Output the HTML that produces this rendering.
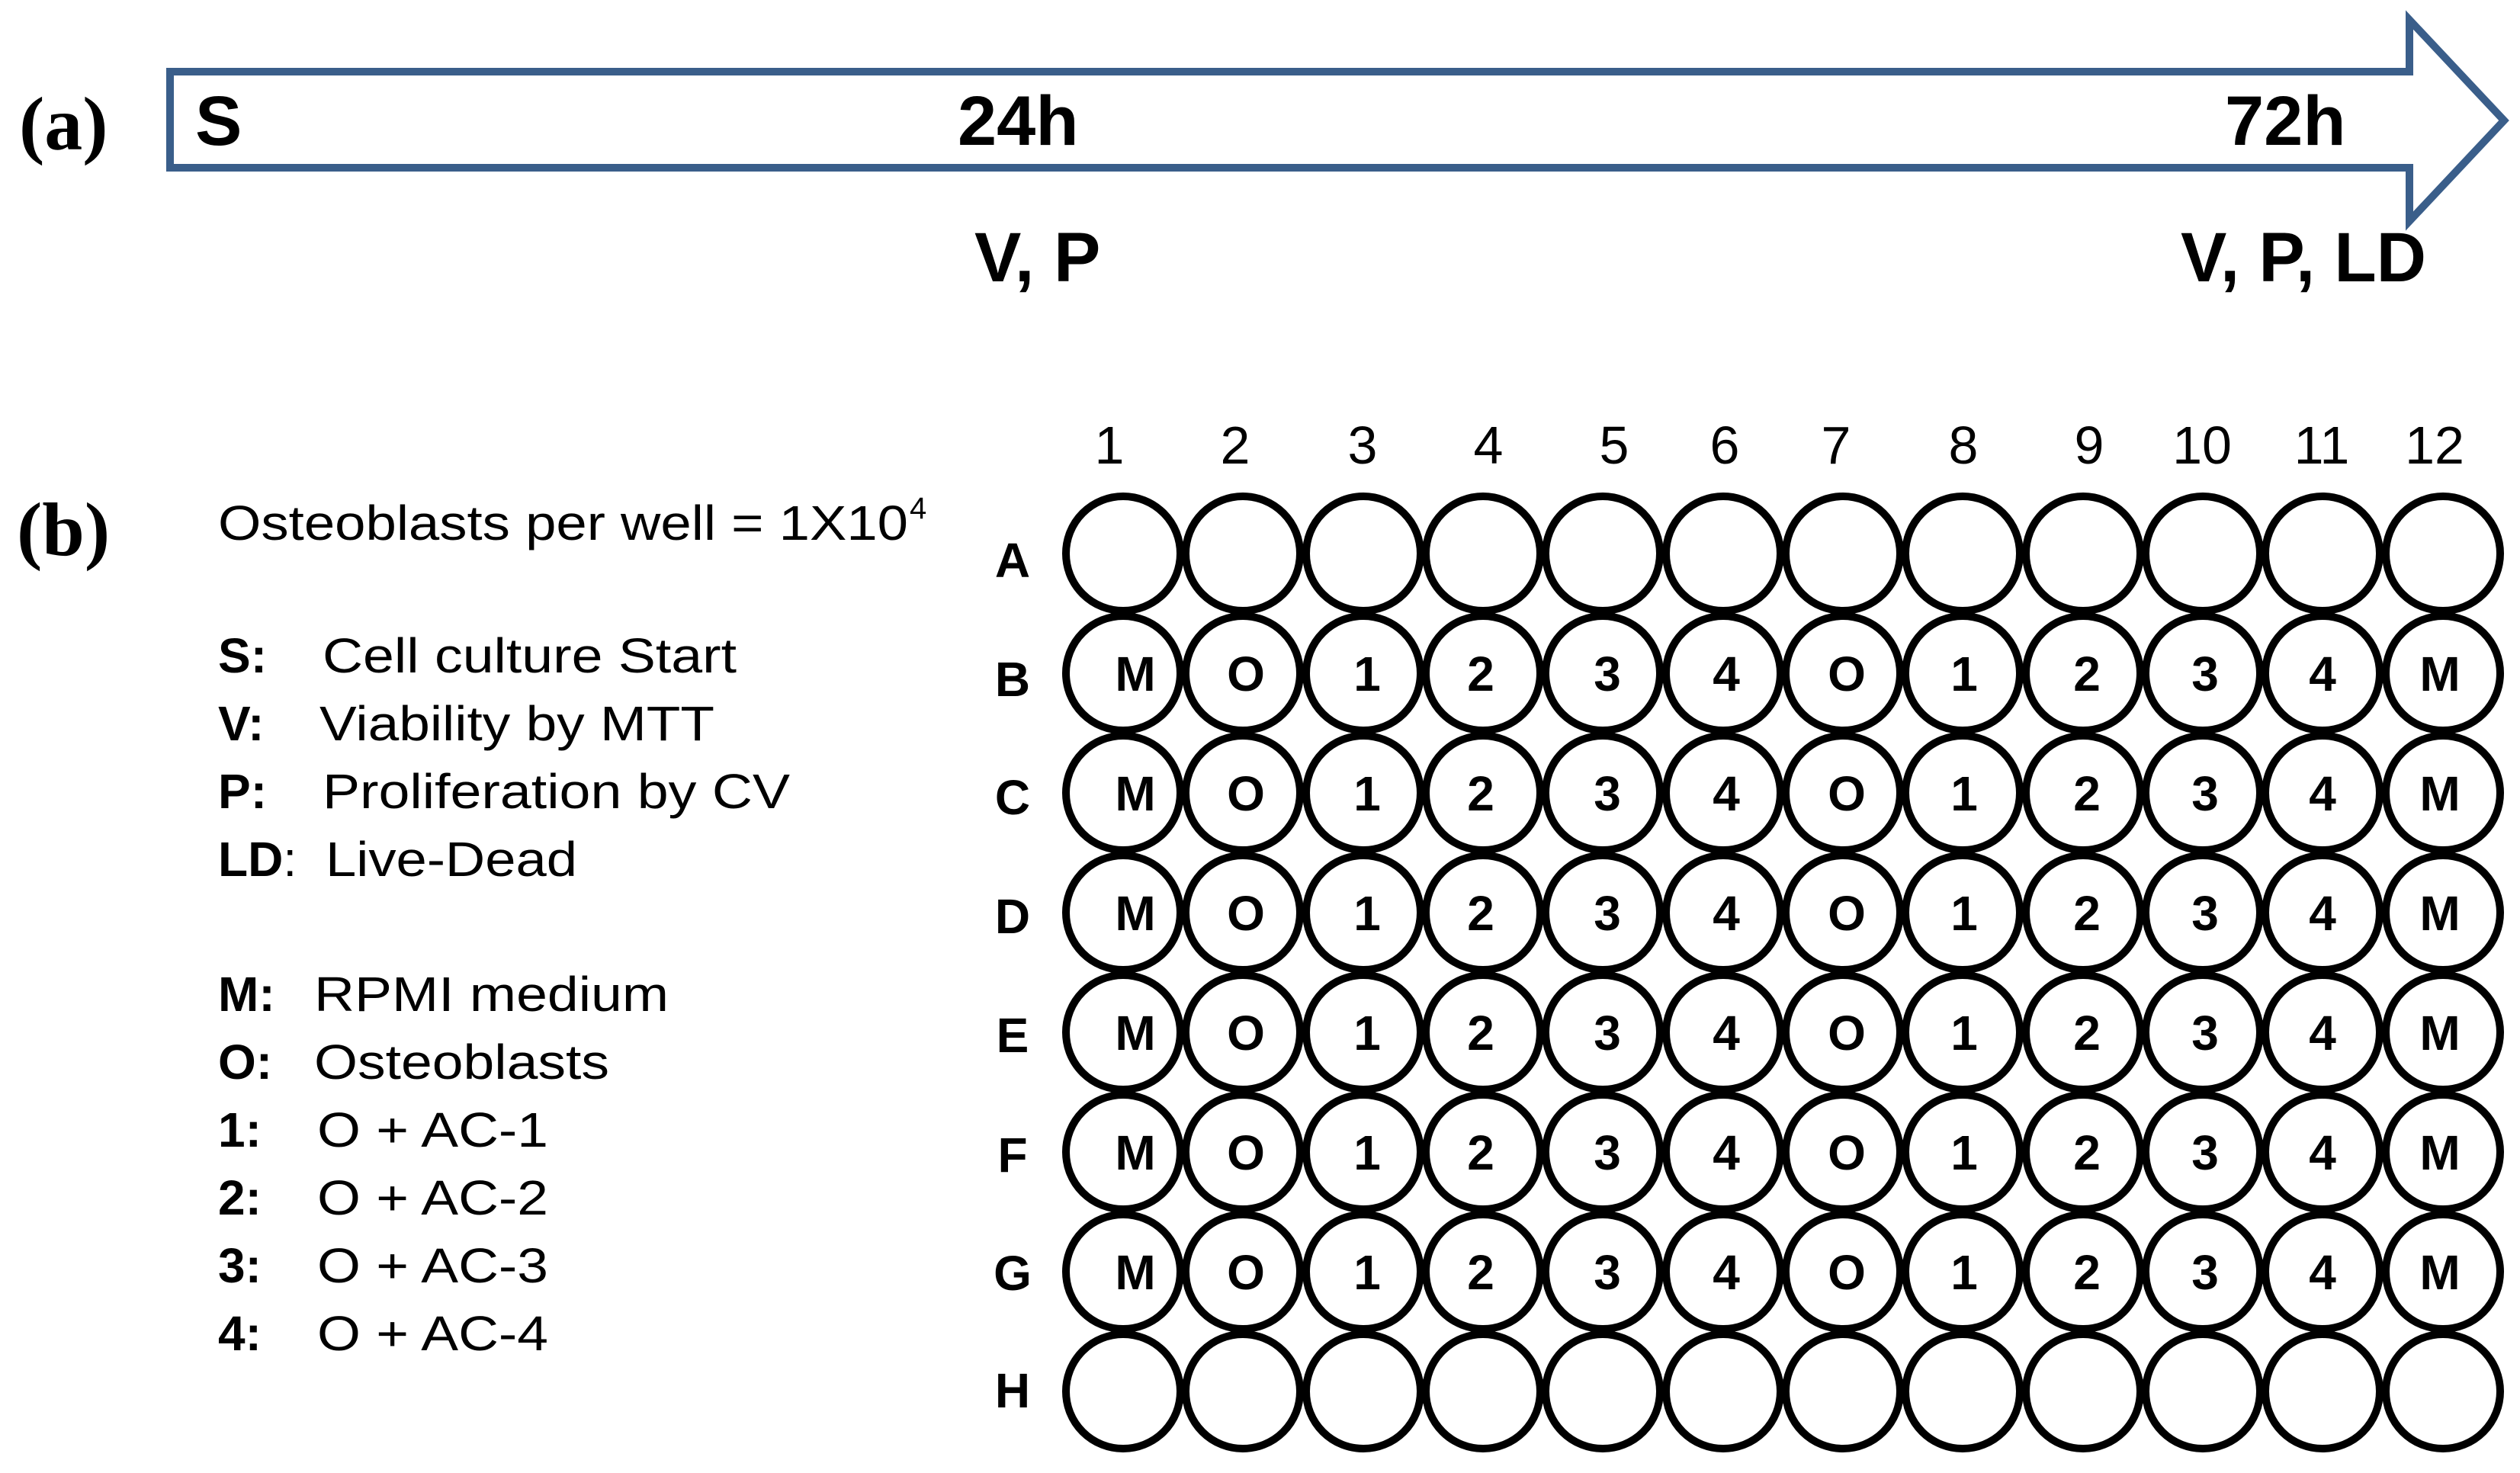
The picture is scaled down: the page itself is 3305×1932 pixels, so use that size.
<!DOCTYPE html>
<html><head><meta charset="utf-8"><style>
html,body{margin:0;padding:0;background:#fff;}
svg{display:block;}
text{font-family:"Liberation Sans",Arial,sans-serif;}
.b{font-weight:bold;}
.ser{font-family:"Liberation Serif","Times New Roman",serif;font-weight:bold;}
</style></head><body>
<svg width="3305" height="1932" viewBox="0 0 3305 1932" xmlns="http://www.w3.org/2000/svg">
<defs>
<g id="row">
<circle cx="1473" cy="0" r="75"/><circle cx="1630" cy="0" r="75"/><circle cx="1788" cy="0" r="75"/><circle cx="1945" cy="0" r="75"/>
<circle cx="2102" cy="0" r="75"/><circle cx="2260" cy="0" r="75"/><circle cx="2417" cy="0" r="75"/><circle cx="2574" cy="0" r="75"/>
<circle cx="2732" cy="0" r="75"/><circle cx="2889" cy="0" r="75"/><circle cx="3046" cy="0" r="75"/><circle cx="3204" cy="0" r="75"/>
</g>
<g id="lab" class="b" font-size="64" text-anchor="middle">
<text x="1489">M</text><text x="1634">O</text><text x="1793">1</text><text x="1942">2</text>
<text x="2108">3</text><text x="2264">4</text><text x="2422">O</text><text x="2576">1</text>
<text x="2737">2</text><text x="2892">3</text><text x="3046">4</text><text x="3200">M</text>
</g>
</defs>
<rect width="3305" height="1932" fill="#fff"/>
<!-- (a) arrow -->
<polygon points="223,94 3160,94 3160,26 3284,158 3160,290 3160,220 223,220" fill="#fff" stroke="#3a5e8a" stroke-width="10"/>
<text class="ser" x="25" y="196" font-size="100">(a)</text>
<text class="b" x="256" y="190" font-size="92">S</text>
<text class="b" x="1256" y="190" font-size="92">24h</text>
<text class="b" x="2918" y="190" font-size="92">72h</text>
<text class="b" x="1278" y="369" font-size="92">V, P</text>
<text class="b" x="2860" y="369" font-size="92" textLength="322" lengthAdjust="spacingAndGlyphs">V, P, LD</text>
<!-- (b) legend -->
<text class="ser" x="22" y="728" font-size="100">(b)</text>
<text x="286" y="708" font-size="64" textLength="905" lengthAdjust="spacingAndGlyphs">Osteoblasts per well = 1X10</text>
<text x="1193" y="680" font-size="40">4</text>
<g font-size="64">
<text class="b" x="286" y="882">S:</text><text x="423" y="882" textLength="543" lengthAdjust="spacingAndGlyphs">Cell culture Start</text>
<text class="b" x="286" y="971">V:</text><text x="419" y="971" textLength="518" lengthAdjust="spacingAndGlyphs">Viability by MTT</text>
<text class="b" x="286" y="1060">P:</text><text x="423" y="1060" textLength="613" lengthAdjust="spacingAndGlyphs">Proliferation by CV</text>
<text x="286" y="1149"><tspan class="b">LD</tspan>:</text><text x="427" y="1149" textLength="330" lengthAdjust="spacingAndGlyphs">Live-Dead</text>
<text class="b" x="286" y="1326">M:</text><text x="412" y="1326" textLength="465" lengthAdjust="spacingAndGlyphs">RPMI medium</text>
<text class="b" x="286" y="1415">O:</text><text x="412" y="1415" textLength="387" lengthAdjust="spacingAndGlyphs">Osteoblasts</text>
<text class="b" x="286" y="1504">1:</text><text x="416" y="1504" textLength="303" lengthAdjust="spacingAndGlyphs">O + AC-1</text>
<text class="b" x="286" y="1593">2:</text><text x="416" y="1593" textLength="303" lengthAdjust="spacingAndGlyphs">O + AC-2</text>
<text class="b" x="286" y="1682">3:</text><text x="416" y="1682" textLength="303" lengthAdjust="spacingAndGlyphs">O + AC-3</text>
<text class="b" x="286" y="1771">4:</text><text x="416" y="1771" textLength="303" lengthAdjust="spacingAndGlyphs">O + AC-4</text>
</g>
<!-- column labels -->
<g font-size="70" text-anchor="middle">
<text x="1455" y="608">1</text><text x="1620" y="608">2</text><text x="1787" y="608">3</text><text x="1952" y="608">4</text>
<text x="2117" y="608">5</text><text x="2262" y="608">6</text><text x="2408" y="608">7</text><text x="2575" y="608">8</text>
<text x="2740" y="608">9</text><text x="2888" y="608">10</text><text x="3045" y="608">11</text><text x="3193" y="608">12</text>
</g>
<!-- row labels -->
<g class="b" font-size="64" text-anchor="middle">
<text x="1328" y="757">A</text><text x="1328" y="913">B</text><text x="1328" y="1068">C</text><text x="1328" y="1224">D</text>
<text x="1328" y="1380">E</text><text x="1328" y="1537">F</text><text x="1328" y="1692">G</text><text x="1328" y="1846">H</text>
</g>
<!-- wells -->
<g fill="#fff" stroke="#000" stroke-width="10">
<use href="#row" y="726"/><use href="#row" y="883"/><use href="#row" y="1040"/><use href="#row" y="1197"/>
<use href="#row" y="1354"/><use href="#row" y="1511"/><use href="#row" y="1668"/><use href="#row" y="1825"/>
</g>
<use href="#lab" y="906"/><use href="#lab" y="1063"/><use href="#lab" y="1220"/>
<use href="#lab" y="1377"/><use href="#lab" y="1534"/><use href="#lab" y="1691"/>
</svg>
</body></html>
